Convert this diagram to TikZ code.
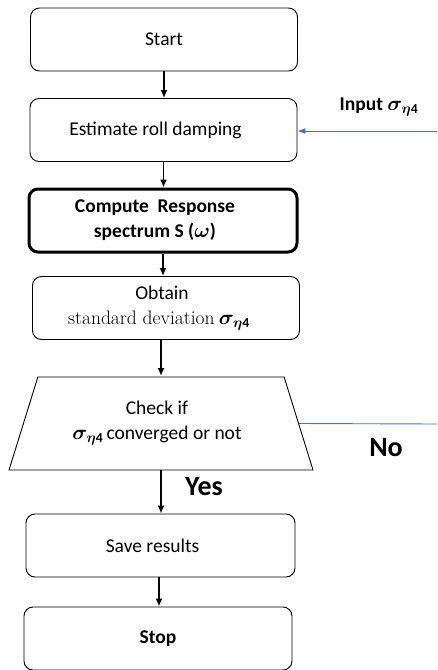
\documentclass[tikz,border=0pt]{standalone}
\usepackage{amsmath,amssymb}
\usepackage{bm}
\usepackage{fontspec}
\setmainfont{Carlito}
\newfontfamily\lmserif{Latin Modern Roman}
\usetikzlibrary{arrows.meta, positioning, shapes.geometric}
\definecolor{linkblue}{RGB}{68,114,196}
\newcommand{\sigeta}{\bm{\sigma}_{\bm{\eta}\mathbf{4}}}

\begin{document}
\begin{tikzpicture}[>={Latex[length=8pt,width=7pt]}, x=1pt, y=-1pt,
  box/.style={draw, rounded corners=9pt, line width=0.9pt, minimum width=267pt,
    minimum height=63pt, align=center, inner sep=0pt,
    font=\fontsize{19.5}{25}\selectfont},
  flow/.style={->, line width=1.6pt},
  feed/.style={linkblue, line width=0.9pt},
  tag/.style={font=\fontsize{28}{30}\selectfont\bfseries}]
\useasboundingbox (0,0) rectangle (437,670);

\node[box] (start) at (164,39.5) {Start};
\node[box] (est) at (163.5,130) {Estimate roll damping\hspace*{16pt}};
\node[box, line width=3pt, minimum width=268pt, minimum height=63pt,
  font=\fontsize{19.5}{25}\selectfont\bfseries] (comp) at (163,220.5)
  {Compute\ \ Response\hspace*{16pt}\\spectrum S ($\bm{\omega}$)\hspace*{16pt}};
\node[box] (obt) at (166,308) {Obtain\hspace*{8pt}\\{\lmserif standard deviation} $\sigeta$\hspace*{14pt}};
\node[draw, trapezium, trapezium left angle=57, trapezium right angle=57,
  trapezium stretches body, minimum width=304pt, minimum height=93pt,
  line width=0.9pt, align=center, inner sep=0pt,
  font=\fontsize{19.5}{25}\selectfont] (chk) at (161,423.5)
  {Check if\hspace*{8pt}\\$\sigeta$\,converged or not\hspace*{8pt}};
\node[box, minimum width=269pt] (save) at (160.5,545.5) {Save results\hspace*{16pt}};
\node[box, minimum width=268pt, font=\fontsize{19.5}{25}\selectfont\bfseries] (stop) at (158,638.5) {Stop};

% flow down
\draw[flow] (start.south) -- (start.south |- est.north);
\draw[flow] (est.south) -- (est.south |- comp.north);
\draw[flow] (comp.south) -- (comp.south |- obt.north);
\draw[flow] (161,340) -- (161,376);
\draw[flow] (161,470) -- (save.north -| 161,0);
\draw[flow] (save.south -| 159,0) -- (stop.north -| 159,0);

% input and loop back
\node[font=\fontsize{19.5}{22}\selectfont\bfseries] (input) at (379,107) {Input $\sigeta$};
\coordinate (inR) at (437,131);
\draw[feed, -{Latex[length=8pt,width=6pt]}] (inR) -- (est.east |- inR);
\coordinate (noR) at (437,424);
\draw[feed] (chk.east) -- (noR);

\node[tag] (no) at (386,448) {No};
\node[tag] (yes) at (204,487) {Yes};

\end{tikzpicture}
\end{document}
